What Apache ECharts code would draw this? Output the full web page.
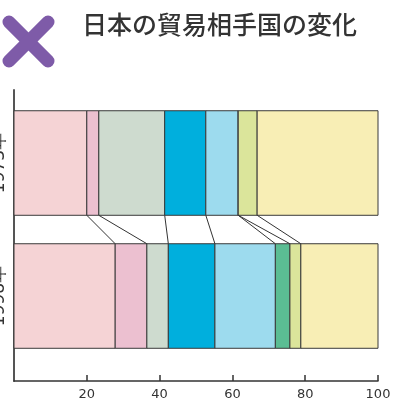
<!DOCTYPE html>
<html>
<head>
<meta charset="utf-8">
<script src="https://cdn.jsdelivr.net/npm/echarts@6/dist/echarts.min.js"></script>
<style>
  html, body { margin: 0; padding: 0; background: #fff; }
  #chart { width: 397px; height: 405px; }
</style>
</head>
<body>
<div id="chart"></div>
<script>
// Japan's trade partners, share of total trade (%)
const years = ['1973年', '1998年'];
const partners = ['p1', 'p2', 'p3', 'p4', 'p5', 'p6', 'p7', 'p8'];
const share1973 = [20.0, 3.3, 18.1, 11.3, 8.9, 0.0, 5.2, 33.2];
const share1998 = [27.8, 8.7, 5.9, 12.8, 16.6, 4.0, 3.0, 21.2];
const xTicks = [0, 20, 40, 60, 80, 100];

const segColors = ['#F5D3D5', '#ECC0D0', '#CEDBCF', '#00AFDD', '#9DDBEE', '#5BBD93', '#DBE59B', '#F8EEB5'];
const barSpan = 0.786; // bar thickness in y-axis units

function cumulative(arr) {
  const out = [0];
  arr.forEach(v => out.push(+(out[out.length - 1] + v).toFixed(2)));
  return out;
}
const cum = [cumulative(share1973), cumulative(share1998)];

// rectangles: [yearIndex, start, end, partnerIndex]
const segData = [];
[share1973, share1998].forEach((shares, yi) => {
  shares.forEach((v, k) => {
    segData.push([yi, cum[yi][k], cum[yi][k + 1], k]);
  });
});

// connectors between matching boundaries of the two bars
const linkData = [];
for (let k = 1; k < partners.length; k++) {
  linkData.push([cum[0][k], cum[1][k]]);
}

const chart = echarts.init(document.getElementById('chart'), null, { renderer: 'canvas' });

chart.setOption({
  animation: false,
  backgroundColor: '#fff',
  title: {
    text: '日本の貿易相手国の変化',
    left: 82,
    top: 12,
    padding: 0,
    textStyle: {
      fontFamily: 'Noto Sans CJK JP',
      fontSize: 25,
      fontWeight: 500,
      color: '#333'
    }
  },
  graphic: [
    {
      type: 'group',
      children: [
        { type: 'line', shape: { x1: 9, y1: 22, x2: 48, y2: 61 },
          style: { stroke: '#7E5BA8', lineWidth: 13, lineCap: 'round' } },
        { type: 'line', shape: { x1: 48, y1: 22, x2: 9, y2: 61 },
          style: { stroke: '#7E5BA8', lineWidth: 13, lineCap: 'round' } }
      ]
    }
  ],
  grid: { left: 14, right: 19, top: 90, bottom: 24, outerBoundsMode: 'none', containLabel: false },
  xAxis: {
    type: 'value',
    min: 0,
    max: 100,
    interval: 20,
    axisLine: { show: true, onZero: false, lineStyle: { color: '#333', width: 1.5 } },
    axisTick: { show: true, inside: true, length: 6, lineStyle: { color: '#333', width: 1.5 },
      customValues: xTicks },
    axisLabel: {
      showMinLabel: false,
      margin: 7,
      fontFamily: 'DejaVu Sans',
      fontSize: 13,
      color: '#333'
    },
    splitLine: { show: false }
  },
  yAxis: {
    type: 'value',
    inverse: true,
    min: -0.549,
    max: 1.639,
    axisLine: { show: true, onZero: false, lineStyle: { color: '#555', width: 2 } },
    axisTick: { show: false },
    splitLine: { show: false },
    axisLabel: {
      customValues: [0, 1],
      rotate: 90,
      margin: 6,
      fontFamily: 'DejaVu Sans',
      fontSize: 17,
      color: '#333',
      formatter: v => years[Math.round(v)]
    }
  },
  series: [
    {
      type: 'custom',
      name: 'share',
      data: segData,
      encode: { x: [1, 2], y: 0 },
      renderItem: function (params, api) {
        const yi = api.value(0);
        const p0 = api.coord([api.value(1), yi]);
        const p1 = api.coord([api.value(2), yi]);
        const h = api.size([0, barSpan])[1];
        return {
          type: 'rect',
          shape: { x: p0[0], y: p0[1] - h / 2, width: p1[0] - p0[0], height: h },
          style: { fill: segColors[api.value(3)], stroke: '#3a3a3a', lineWidth: 1 }
        };
      }
    },
    {
      type: 'custom',
      name: 'links',
      data: linkData,
      encode: { x: [0, 1] },
      renderItem: function (params, api) {
        const h = api.size([0, barSpan])[1];
        const a = api.coord([api.value(0), 0]);
        const b = api.coord([api.value(1), 1]);
        return {
          type: 'line',
          shape: { x1: a[0], y1: a[1] + h / 2, x2: b[0], y2: b[1] - h / 2 },
          style: { stroke: '#333', lineWidth: 1 }
        };
      }
    }
  ]
});
</script>
</body>
</html>
